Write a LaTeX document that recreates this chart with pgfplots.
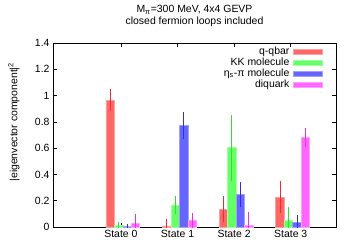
\documentclass[border=0pt]{standalone}
\usepackage{fontspec}
\setmainfont{Liberation Sans}
\usepackage{pgfplots}
\usepackage{pgfplotstable}
\pgfplotsset{compat=1.18}
\definecolor{fR}{HTML}{FF6666}
\definecolor{fG}{HTML}{66FF66}
\definecolor{fB}{HTML}{6666FF}
\definecolor{fM}{HTML}{FF66FF}
\definecolor{bR}{HTML}{FFA0A0}
\definecolor{bG}{HTML}{A0FFA0}
\definecolor{bB}{HTML}{A0A0FF}
\definecolor{bM}{HTML}{FFA0FF}
\definecolor{eR}{HTML}{E83030}
\definecolor{eG}{HTML}{30E030}
\definecolor{eB}{HTML}{3030E0}
\definecolor{eM}{HTML}{E830E8}
% x = state index + offset of the bar within its group
\pgfplotstableread{
x y e
-0.19 0.965 0.068
0.81 0.008 0.040
1.81 0.135 0.083
2.81 0.228 0.107
}\qqbar
\pgfplotstableread{
x y e
-0.04 0.010 0.012
0.96 0.168 0.056
1.96 0.604 0.235
2.96 0.051 0.084
}\kk
\pgfplotstableread{
x y e
0.11 0.003 0.003
1.11 0.770 0.088
2.11 0.246 0.080
3.11 0.038 0.036
}\etapi
\pgfplotstableread{
x y e
0.26 0.028 0.053
1.26 0.048 0.040
2.26 0.013 0.085
3.26 0.680 0.056
}\diquark
\newcommand{\fs}{\fontsize{10.5}{12}\selectfont}
\pgfplotsset{
  errplot/.style={only marks, mark=*, mark size=0pt, forget plot,
    error bars/.cd, y dir=both, y explicit,
    error bar style={#1, line width=0.8bp},
    error mark options={#1, mark size=2bp, line width=0.8bp}},
}
\begin{document}
\begin{tikzpicture}
\useasboundingbox (-53bp,-22bp) rectangle (303bp,227bp);
\begin{axis}[
  at={(0,0)}, anchor=south west,
  scale only axis, width=283bp, height=184bp,
  xmin=-1.2, xmax=3.8, ymin=0, ymax=1.4,
  xtick={0,1,2,3},
  xticklabels={State 0,State 1,State 2,State 3},
  ytick={0,0.2,0.4,0.6,0.8,1,1.2,1.4},
  yticklabels={0,0.2,0.4,0.6,0.8,1,1.2,1.4},
  tick align=inside, major tick length=4bp,
  tick style={black, line width=0.6bp},
  axis line style={black, line width=0.8bp},
  tick label style={font=\fs},
  /pgf/number format/assume math mode=true,
  title={M\textsubscript{π}=300 MeV, 4x4 GEVP\\closed fermion loops included},
  title style={font=\fs, align=center, at={(0.5,1)}, anchor=south, inner sep=0pt, yshift=10bp},
  ylabel={|eigenvector component|\textsuperscript{2}},
  ylabel style={font=\fs, at={(axis description cs:-0.138,0.57)}, anchor=center, inner sep=0pt},
  legend plot pos=right,
  legend cell align=right,
  legend style={at={(rel axis cs:0.954,0.985)}, anchor=north east, draw=none, fill=none,
    font=\fs, inner sep=0pt, column sep=3bp,
    nodes={inner sep=0.6bp, text height=7.5bp, text depth=2.3bp}},
  legend image code/.code={\draw[#1, line width=0.8bp] (0bp,-2.5bp) rectangle (29bp,2.5bp);},
]
\addplot[ybar, bar width=0.15, bar shift=0, fill=fR, draw=bR, line width=0.8bp]
  table[x=x, y=y] {\qqbar};
\addlegendentry{q-qbar}
\addplot[ybar, bar width=0.15, bar shift=0, fill=fG, draw=bG, line width=0.8bp]
  table[x=x, y=y] {\kk};
\addlegendentry{KK molecule}
\addplot[ybar, bar width=0.15, bar shift=0, fill=fB, draw=bB, line width=0.8bp]
  table[x=x, y=y] {\etapi};
\addlegendentry{η\textsubscript{s}-π molecule}
\addplot[ybar, bar width=0.15, bar shift=0, fill=fM, draw=bM, line width=0.8bp]
  table[x=x, y=y] {\diquark};
\addlegendentry{diquark}
\addplot[errplot=eR] table[x=x, y=y, y error=e] {\qqbar};
\addplot[errplot=eG] table[x=x, y=y, y error=e] {\kk};
\addplot[errplot=eB] table[x=x, y=y, y error=e] {\etapi};
\addplot[errplot=eM] table[x=x, y=y, y error=e] {\diquark};
\end{axis}
\end{tikzpicture}
\end{document}
